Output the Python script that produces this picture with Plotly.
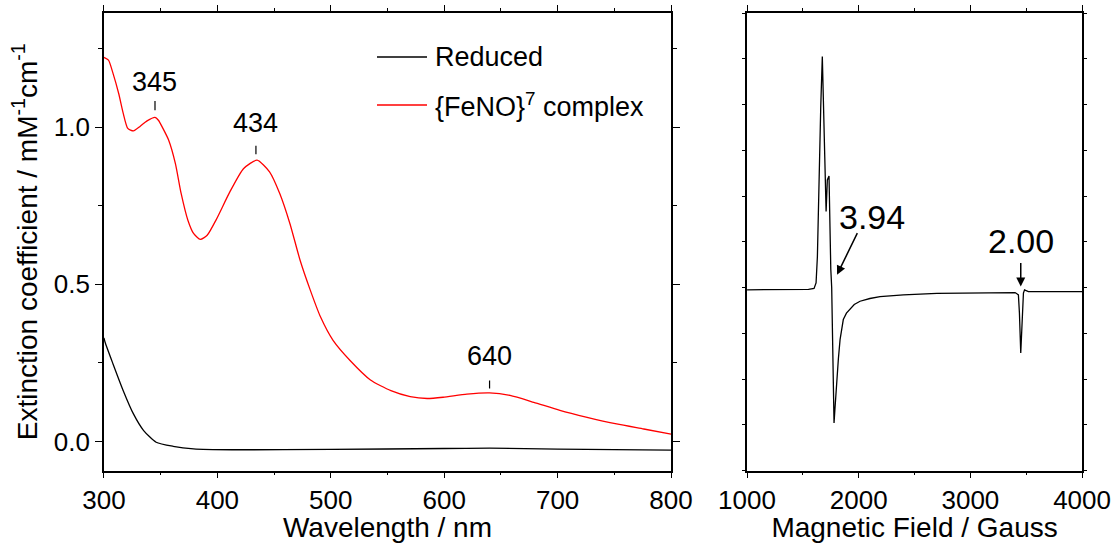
import plotly.graph_objects as go

# ---- UV-vis data (left panel) ----
red_wl = [300, 304, 308, 313, 317, 321, 326, 332, 338, 345, 348, 352, 357, 363, 368, 374, 379, 385,
          391, 399, 411, 423, 435, 446, 455, 464, 473, 482, 491, 502, 517, 535, 553, 570, 585, 599,
          620, 640, 658, 679, 702, 726, 752, 776, 800]
red_ext = [1.222, 1.213, 1.171, 1.107, 1.044, 0.996, 0.988, 1.003, 1.02, 1.031, 1.022, 0.996, 0.959,
           0.884, 0.79, 0.704, 0.662, 0.643, 0.656, 0.706, 0.794, 0.868, 0.895, 0.858, 0.789, 0.693,
           0.576, 0.481, 0.396, 0.322, 0.258, 0.196, 0.162, 0.143, 0.137, 0.141, 0.151, 0.155, 0.147,
           0.125, 0.099, 0.077, 0.056, 0.040, 0.024]

black_wl = [300, 301, 308, 317, 326, 335, 346, 361, 379, 413, 500, 600, 640, 700, 800]
black_ext = [0.33, 0.316, 0.247, 0.162, 0.088, 0.035, -0.002, -0.015, -0.023, -0.026, -0.025,
             -0.022, -0.021, -0.024, -0.027]

series_names = ["Reduced", "{FeNO}<sup>7</sup> complex"]
series_colors = ["black", "#ff0000"]

peak_wl = [345, 434, 640]
peak_text_y = [1.09, 0.96, 0.217]
peak_tick_lo = [1.054, 0.914, 0.169]
peak_tick_hi = [1.083, 0.941, 0.194]

# ---- EPR data (right panel) ----
epr_field = [1000, 1200, 1400, 1550, 1600, 1618, 1630, 1645, 1660, 1674, 1683, 1696, 1708, 1719,
             1734, 1743, 1750, 1758, 1767, 1773, 1779, 1786, 1795, 1803, 1818, 1833, 1848, 1862,
             1890, 1922, 1960, 2012, 2100, 2191, 2400, 2700, 3057, 3355, 3400, 3430, 3439, 3451,
             3463, 3475, 3485, 3519, 3700, 4000]
epr_signal = [-0.05, -0.05, -0.05, -0.04, -0.02, 0.10, 0.68, 2.5, 3.95, 5.05, 4.32, 2.86, 1.66,
              2.35, 2.44, 1.04, 0.4, 0.0, -1.29, -2.4, -2.96, -2.7, -2.3, -2.01, -1.55, -1.14,
              -0.88, -0.70, -0.56, -0.48, -0.37, -0.30, -0.24, -0.20, -0.16, -0.13, -0.12, -0.10,
              -0.11, -0.16, -0.55, -1.43, -0.55, -0.12, -0.05, -0.09, -0.09, -0.09]

g_labels = ["3.94", "2.00"]

FONT = "Liberation Sans, Arial, sans-serif"

fig = go.Figure()
fig.add_trace(go.Scatter(x=black_wl, y=black_ext, mode="lines", name=series_names[0],
                         line=dict(color=series_colors[0], width=1.3, shape="spline", smoothing=0.6),
                         showlegend=False, xaxis="x", yaxis="y"))
fig.add_trace(go.Scatter(x=red_wl, y=red_ext, mode="lines", name=series_names[1],
                         line=dict(color=series_colors[1], width=1.3, shape="spline", smoothing=0.6),
                         showlegend=False, xaxis="x", yaxis="y"))
fig.add_trace(go.Scatter(x=epr_field, y=epr_signal, mode="lines", showlegend=False,
                         line=dict(color="black", width=1.3),
                         xaxis="x2", yaxis="y2"))

axcommon = dict(showline=True, linecolor="black", linewidth=1.5, mirror="ticks",
                showgrid=False, zeroline=False, ticks="outside", tickcolor="black",
                automargin=False,
                tickfont=dict(size=26, color="black", family=FONT))

fig.update_layout(
    width=1113, height=543,
    margin=dict(l=0, r=0, t=0, b=0),
    paper_bgcolor="white", plot_bgcolor="white",
    font=dict(family=FONT, color="black"),
    xaxis=dict(domain=[0.0934, 0.6029], range=[300, 800], dtick=100, ticklen=6,
               minor=dict(dtick=50, ticks="outside", ticklen=3, tickcolor="black"),
               title=dict(text="Wavelength / nm", font=dict(size=28), standoff=4),
               anchor="y", **axcommon),
    yaxis=dict(domain=[0.1335, 0.976], range=[-0.092, 1.363], dtick=0.5, tick0=0,
               tickformat=".1f", ticklen=7,
               minor=dict(dtick=0.25, ticks="outside", ticklen=4, tickcolor="black"),
               title=dict(text="Extinction coefficient / mM<sup>-1</sup>cm<sup>-1</sup>",
                          font=dict(size=28), standoff=8),
               anchor="x", **axcommon),
    xaxis2=dict(domain=[0.6712, 0.9722], range=[1000, 4000], dtick=1000, ticklen=6,
                minor=dict(dtick=500, ticks="outside", ticklen=3, tickcolor="black"),
                title=dict(text="Magnetic Field / Gauss", font=dict(size=28), standoff=4),
                anchor="y2", **axcommon),
    yaxis2=dict(domain=[0.1335, 0.976], range=[-4, 6], dtick=1, tick0=0, ticklen=3,
                showticklabels=False, anchor="x2", **axcommon),
    showlegend=False,
)

# legend drawn in paper coordinates (long line samples like the original)
leg_y = [1 - 57 / 543, 1 - 105 / 543]
for name, col, yy in zip(series_names, series_colors, leg_y):
    fig.add_shape(type="line", xref="paper", yref="paper", x0=377 / 1113, x1=427 / 1113,
                  y0=yy, y1=yy, line=dict(color=col, width=1.3))
    fig.add_annotation(x=433 / 1113, y=yy, xref="paper", yref="paper", text=name,
                       showarrow=False, xanchor="left", yanchor="middle",
                       font=dict(size=27, color="black"))

# peak labels with small tick marks
for wl, ty, lo, hi in zip(peak_wl, peak_text_y, peak_tick_lo, peak_tick_hi):
    fig.add_annotation(x=wl, y=ty, xref="x", yref="y", text=str(wl), showarrow=False,
                       yanchor="bottom", font=dict(size=27, color="black"))
    fig.add_shape(type="line", xref="x", yref="y", x0=wl, x1=wl, y0=lo, y1=hi,
                  line=dict(color="black", width=1.2))

# EPR g-value labels and arrows
fig.add_annotation(x=1806, y=0.28, ax=1994, ay=1.22, xref="x2", yref="y2", axref="x2", ayref="y2",
                   text="", showarrow=True, arrowhead=2, arrowsize=1.2, arrowwidth=1.5,
                   arrowcolor="black")
fig.add_annotation(x=2119, y=1.55, xref="x2", yref="y2", text=g_labels[0], showarrow=False,
                   font=dict(size=34, color="black"))
fig.add_annotation(x=3451, y=0.02, ax=3451, ay=0.57, xref="x2", yref="y2", axref="x2", ayref="y2",
                   text="", showarrow=True, arrowhead=2, arrowsize=1.2, arrowwidth=1.5,
                   arrowcolor="black")
fig.add_annotation(x=3451, y=1.02, xref="x2", yref="y2", text=g_labels[1], showarrow=False,
                   font=dict(size=34, color="black"))

fig.write_html("out.html")
